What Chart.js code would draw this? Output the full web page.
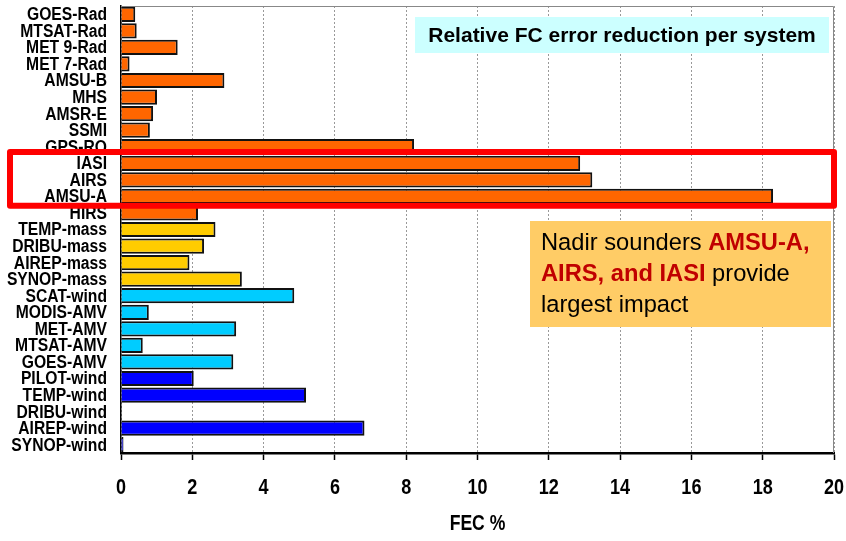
<!DOCTYPE html>
<html>
<head>
<meta charset="utf-8">
<script src="https://cdn.jsdelivr.net/npm/chart.js@4/dist/chart.umd.min.js"></script>
<style>
  html, body { margin: 0; padding: 0; background: #fff; }
  #wrap { width: 846px; height: 541px; }
</style>
</head>
<body>
<div id="wrap"><canvas id="myCanvas" width="846" height="541"></canvas></div>
<script>
var systems = ['GOES-Rad','MTSAT-Rad','MET 9-Rad','MET 7-Rad','AMSU-B','MHS','AMSR-E','SSMI','GPS-RO',
               'IASI','AIRS','AMSU-A','HIRS',
               'TEMP-mass','DRIBU-mass','AIREP-mass','SYNOP-mass',
               'SCAT-wind','MODIS-AMV','MET-AMV','MTSAT-AMV','GOES-AMV',
               'PILOT-wind','TEMP-wind','DRIBU-wind','AIREP-wind','SYNOP-wind']
var fec     = [0.4,0.44,1.59,0.24,2.9,1.01,0.9,0.81,8.22,
               12.88,13.22,18.29,2.16,
               2.65,2.33,1.92,3.39,
               4.86,0.78,3.23,0.61,3.15,
               2.04,5.19,0,6.83,0.07]
var group   = ['sat','sat','sat','sat','sat','sat','sat','sat','sat',
               'sat','sat','sat','sat',
               'mass','mass','mass','mass',
               'amv','amv','amv','amv','amv',
               'wind','wind','wind','wind','wind']
var xTicks  = [0,2,4,6,8,10,12,14,16,18,20]

var groupColor = { sat: '#FF6600', mass: '#FFCC00', amv: '#00CCFF', wind: '#0000FF' }
var sans = "'Liberation Sans', Arial, sans-serif"

// squeezed bold text, to look like the narrow font of the original
function narrowText(c, txt, x, y, size, squeeze, align) {
    c.save()
    c.font = 'bold ' + size + 'px ' + sans
    c.textAlign = align
    c.textBaseline = 'middle'
    c.fillStyle = '#000'
    c.translate(x, y)
    c.scale(squeeze, 1)
    c.fillText(txt, 0, 0)
    c.restore()
}

var extras = {
    id: 'extras',
    beforeDatasetsDraw: function(chart) {
        var a = chart.chartArea, c = chart.ctx
        c.save()
        c.strokeStyle = '#888'
        c.lineWidth = 1
        c.beginPath()
        c.moveTo(a.left, a.top + 0.5)
        c.lineTo(a.right - 0.5, a.top + 0.5)
        c.lineTo(a.right - 0.5, a.bottom)
        c.stroke()
        c.restore()
    },
    afterDatasetsDraw: function(chart) {
        var c = chart.ctx, xs = chart.scales.x, ys = chart.scales.y
        systems.forEach(function(s, i) {
            narrowText(c, s, 107, ys.getPixelForValue(i) + 1, 18, 0.87, 'right')
        })
        xTicks.forEach(function(v) {
            narrowText(c, String(v), xs.getPixelForValue(v), 488, 22, 0.82, 'center')
        })
        narrowText(c, 'FEC %', (xs.left + xs.right) / 2, 524, 22, 0.8, 'center')
    },
    afterDraw: function(chart) {
        var a = chart.chartArea, c = chart.ctx
        var y = chart.scales.y
        var half = (y.getPixelForValue(1) - y.getPixelForValue(0)) / 2
        c.save()
        // highlight box round IASI / AIRS / AMSU-A
        var top = y.getPixelForValue(systems.indexOf('IASI')) - half - 3
        var bot = y.getPixelForValue(systems.indexOf('AMSU-A')) + half + 1
        c.strokeStyle = '#FF0000'
        c.lineWidth = 6
        c.lineJoin = 'round'
        c.strokeRect(10, top, a.right - 10, bot - top)

        // title box
        c.fillStyle = '#CCFFFF'
        c.fillRect(415, 17, 414, 36)
        c.fillStyle = '#000'
        c.font = 'bold 21px ' + sans
        c.textAlign = 'center'
        c.textBaseline = 'middle'
        c.fillText('Relative FC error reduction per system', 622, 36)

        // comment box
        c.fillStyle = '#FFCC66'
        c.fillRect(530, 221, 301, 106)
        c.textAlign = 'left'
        c.textBaseline = 'alphabetic'
        var parts = [
            [['Nadir sounders ', false], ['AMSU-A,', true]],
            [['AIRS, and IASI', true], [' provide', false]],
            [['largest impact', false]]
        ]
        parts.forEach(function(line, i) {
            var x = 541
            line.forEach(function(p) {
                c.font = (p[1] ? 'bold ' : '') + '23.7px ' + sans
                c.fillStyle = p[1] ? '#C00000' : '#000'
                c.fillText(p[0], x, 250 + i * 31)
                x += c.measureText(p[0]).width
            })
        })
        c.restore()
    }
}

var ctx = document.getElementById('myCanvas')
var myChart = new Chart(ctx, {
    type: 'bar',
    data: {
        labels: systems,
        datasets: [{
            data: fec,
            backgroundColor: group.map(function(g) { return groupColor[g] }),
            borderColor: '#111',
            borderWidth: 2,
            categoryPercentage: 1,
            barPercentage: 0.92
        }]
    },
    options: {
        indexAxis: 'y',
        responsive: false,
        animation: false,
        layout: { padding: { left: 0, right: 12, top: 6, bottom: 0 } },
        plugins: { legend: { display: false }, tooltip: { enabled: false } },
        scales: {
            x: {
                min: 0, max: 20,
                afterBuildTicks: function(s) { s.ticks = xTicks.map(function(v) { return { value: v } }) },
                afterFit: function(s) { s.height = 88; s.paddingLeft = 0; s.paddingRight = 0 },
                grid: { color: '#999', lineWidth: 1, tickLength: 7, tickColor: '#000', tickWidth: 1.5, tickBorderDash: [] },
                border: { color: '#000', width: 2.5, dash: [2, 2] },
                ticks: { display: false }
            },
            y: {
                afterFit: function(s) { s.width = 121; s.paddingTop = 0; s.paddingBottom = 0 },
                grid: { display: false, drawTicks: false },
                border: { color: '#000', width: 1.5 },
                ticks: { display: false, autoSkip: false }
            }
        }
    },
    plugins: [extras]
});
</script>
</body>
</html>
